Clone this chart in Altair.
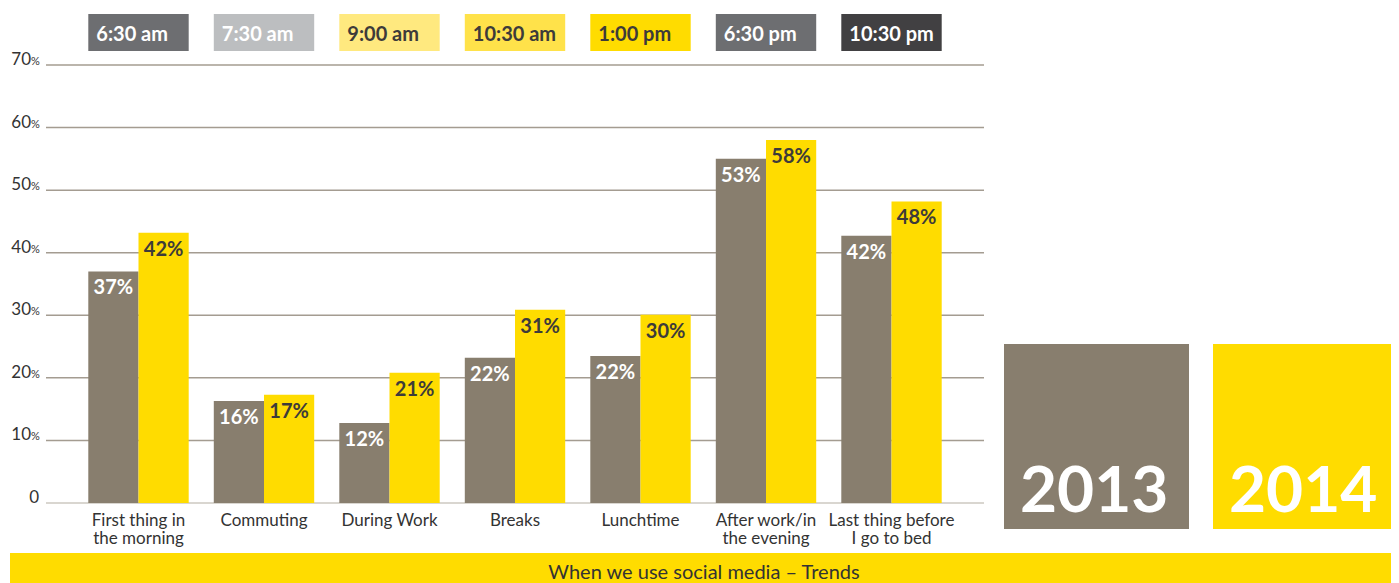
import altair as alt
import pandas as pd

# ---------------- data ----------------
categories = [
    "First thing in\nthe morning",
    "Commuting",
    "During Work",
    "Breaks",
    "Lunchtime",
    "After work/in\nthe evening",
    "Last thing before\nI go to bed",
]
years = ["2013", "2014"]
values_2013 = [37.0, 16.3, 12.8, 23.2, 23.5, 55.0, 42.7]
values_2014 = [43.2, 17.3, 20.8, 30.9, 30.1, 58.0, 48.2]
labels_2013 = ["37%", "16%", "12%", "22%", "22%", "53%", "42%"]
labels_2014 = ["42%", "17%", "21%", "31%", "30%", "58%", "48%"]
times = ["6:30 am", "7:30 am", "9:00 am", "10:30 am", "1:00 pm", "6:30 pm", "10:30 pm"]
y_ticks = [0, 10, 20, 30, 40, 50, 60, 70]
title_text = "When we use social media \u2013 Trends"

# ---------------- styles ----------------
year_colors = ["#887e6e", "#ffdc00"]
box_colors = ["#6d6e71", "#bcbec0", "#ffe97f", "#ffe24a", "#ffdc00", "#6d6e71", "#414042"]
box_text_colors = ["#ffffff", "#ffffff", "#3d3b3a", "#3d3b3a", "#3d3b3a", "#ffffff", "#ffffff"]
DARK = "#3d3b3a"
FONT = "Lato"

PLOT_W, PLOT_H = 938, 438

# ---------------- tables ----------------
bar_df = pd.DataFrame(
    {
        "category": categories * 2,
        "year": ["2013"] * len(categories) + ["2014"] * len(categories),
        "value": values_2013 + values_2014,
        "label": labels_2013 + labels_2014,
    }
)
time_df = pd.DataFrame({"category": categories, "time": times})
tick_df = pd.DataFrame({"tick": y_ticks, "num": [str(t) for t in y_ticks]})
cat_df = pd.DataFrame({"category": categories})
year_df = pd.DataFrame({"year": years})
title_df = pd.DataFrame({"title": [title_text]})

x_enc = alt.X(
    "category:N",
    sort=categories,
    scale=alt.Scale(paddingInner=0.2, paddingOuter=0.337),
    axis=None,
)
y_scale = alt.Scale(domain=[0, 70], nice=False, zero=True)

# gridlines
grid = alt.Chart(tick_df).mark_rule(strokeWidth=1.5).encode(
    y=alt.Y("tick:Q", scale=y_scale, axis=None),
    x=alt.value(0),
    x2=alt.value(PLOT_W),
    color=alt.condition("datum.tick == 0", alt.value("#cdc8c1"), alt.value("#a49c91")),
)

# y labels
ylab_num = alt.Chart(tick_df).transform_filter("datum.tick > 0").mark_text(
    align="right", baseline="alphabetic", font=FONT, fontSize=17, color="#333333"
).encode(y=alt.Y("tick:Q", scale=y_scale, axis=None), x=alt.value(-15), text="num:N")
ylab_pct = alt.Chart(tick_df).transform_filter("datum.tick > 0").mark_text(
    align="left", baseline="alphabetic", font=FONT, fontSize=11, color="#333333"
).encode(y=alt.Y("tick:Q", scale=y_scale, axis=None), x=alt.value(-15), text=alt.value("%"))
ylab_zero = alt.Chart(tick_df).transform_filter("datum.tick == 0").mark_text(
    align="right", baseline="alphabetic", font=FONT, fontSize=17, color="#333333"
).encode(y=alt.Y("tick:Q", scale=y_scale, axis=None), x=alt.value(-7), text="num:N")

# bars
bars = alt.Chart(bar_df).mark_bar().encode(
    x=x_enc,
    xOffset=alt.XOffset("year:N", sort=years, scale=alt.Scale(paddingInner=0, paddingOuter=0)),
    y=alt.Y("value:Q", scale=y_scale, axis=None),
    color=alt.Color("year:N", scale=alt.Scale(domain=years, range=year_colors), legend=None),
)

def bar_labels(year, col):
    return alt.Chart(bar_df).transform_filter(f"datum.year == '{year}'").mark_text(
        align="center", baseline="alphabetic", dy=23, font=FONT, fontWeight="bold",
        fontSize=20, color=col
    ).encode(
        x=x_enc,
        xOffset=alt.XOffset("year:N", sort=years, scale=alt.Scale(paddingInner=0, paddingOuter=0)),
        y=alt.Y("value:Q", scale=y_scale, axis=None),
        text="label:N",
    )

lab13 = bar_labels("2013", "#ffffff")
lab14 = bar_labels("2014", DARK)

# category labels
cat_labels = alt.Chart(cat_df).mark_text(
    align="center", baseline="alphabetic", lineBreak="\n", lineHeight=18,
    font=FONT, fontSize=17, color="#333333"
).encode(x=x_enc, y=alt.value(461), text="category:N")

# time boxes
time_boxes = alt.Chart(time_df).mark_rect().encode(
    x=x_enc,
    y=alt.value(-51),
    y2=alt.value(-14),
    color=alt.Color("time:N", scale=alt.Scale(domain=times, range=box_colors), legend=None),
)
time_text = alt.Chart(time_df).mark_text(
    align="left", baseline="alphabetic", dx=8, font=FONT, fontWeight="bold", fontSize=20
).encode(
    x=alt.X("category:N", sort=categories, scale=alt.Scale(paddingInner=0.2, paddingOuter=0.337),
            axis=None, bandPosition=0),
    y=alt.value(-24),
    text="time:N",
    color=alt.Color("time:N", scale=alt.Scale(domain=times, range=box_text_colors), legend=None),
)

# legend boxes
def legend_box(year, col, x0):
    box = alt.Chart(year_df).transform_filter(f"datum.year == '{year}'").mark_rect(color=col).encode(
        x=alt.value(x0), x2=alt.value(x0 + 185), y=alt.value(279), y2=alt.value(464)
    )
    txt = alt.Chart(year_df).transform_filter(f"datum.year == '{year}'").mark_text(
        align="left", baseline="alphabetic", font=FONT, fontWeight="bold", fontSize=64,
        color="#ffffff"
    ).encode(x=alt.value(x0 + 16), y=alt.value(447), text="year:N")
    return box + txt

leg13 = legend_box("2013", year_colors[0], 958)
leg14 = legend_box("2014", year_colors[1], 1167)

# bottom banner
banner = alt.Chart(title_df).mark_rect(color="#ffdc00").encode(
    x=alt.value(-36), x2=alt.value(1345), y=alt.value(488), y2=alt.value(518)
)
banner_text = alt.Chart(title_df).mark_text(
    align="center", baseline="alphabetic", font=FONT, fontSize=20, color="#333333"
).encode(x=alt.value(658), y=alt.value(514), text="title:N")

chart = (
    alt.layer(
        grid, bars, lab13, lab14, ylab_num, ylab_pct, ylab_zero, cat_labels,
        time_boxes, time_text, leg13, leg14, banner, banner_text
    )
    .resolve_scale(color="independent")
    .properties(
        width=PLOT_W,
        height=PLOT_H,
        padding={"left": 38, "top": 57, "right": 407, "bottom": 80},
        autosize=alt.AutoSizeParams(type="none"),
    )
    .configure_view(stroke=None)
)

chart.save("out.html", embed_options={"renderer": "svg", "actions": False})
